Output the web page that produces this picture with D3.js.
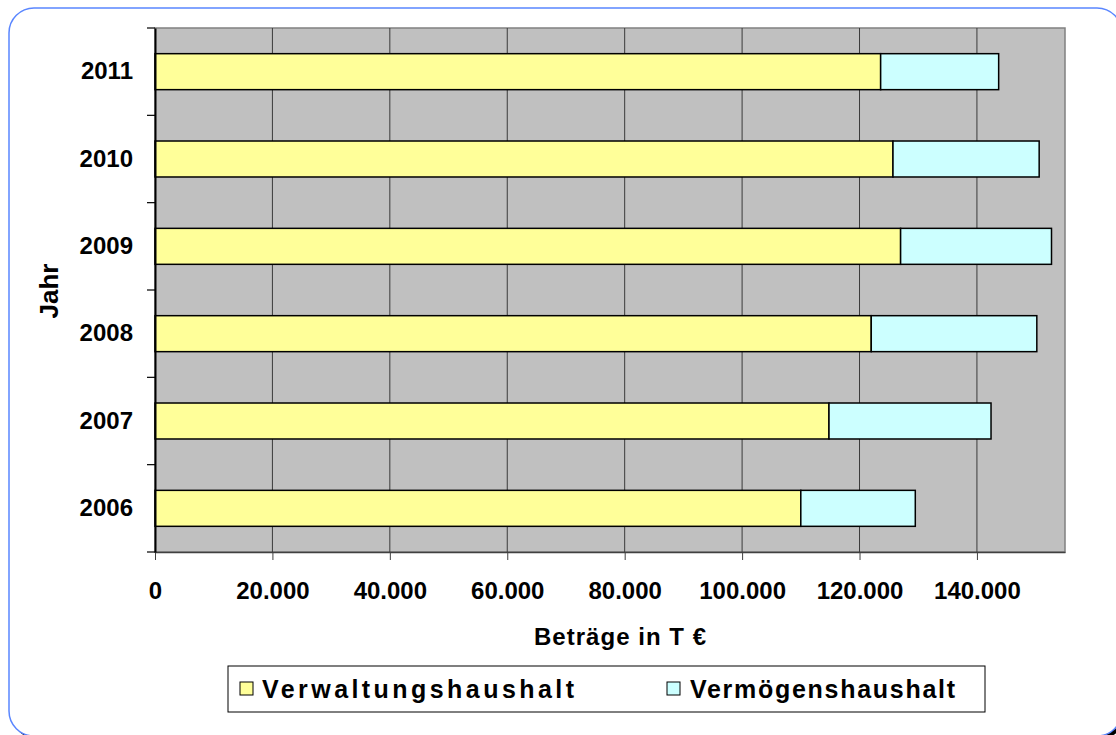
<!DOCTYPE html>
<html>
<head>
<meta charset="utf-8">
<script src="https://cdn.jsdelivr.net/npm/d3@7"></script>
<style>
  body { margin: 0; background: #fff; }
  text { font-family: "Liberation Sans", Arial, sans-serif; font-weight: bold; fill: #000; }
</style>
</head>
<body>
<div id="chart"></div>
<script>
// Data (T €)
const years = ["2006", "2007", "2008", "2009", "2010", "2011"];
const verwaltung = [110000, 114800, 122000, 127000, 125700, 123600];
const vermoegen = [19500, 27600, 28200, 25700, 24900, 20100];
const xTicks = [0, 20000, 40000, 60000, 80000, 100000, 120000, 140000];
const seriesNames = ["Verwaltungshaushalt", "Vermögenshaushalt"];
const seriesColors = ["#ffff99", "#ccffff"];

const width = 1116;
const height = 735;
const plot = {left: 155, right: 1065, top: 28, bottom: 552};

const svg = d3.select("#chart")
    .append("svg")
    .attr("width", width)
    .attr("height", height);

// Rounded frame with a small shadow
svg.append("rect")
    .attr("x", 12).attr("y", 11)
    .attr("width", 1113).attr("height", 728)
    .attr("rx", 25)
    .attr("fill", "#000");
svg.append("rect")
    .attr("x", 9).attr("y", 8)
    .attr("width", 1113).attr("height", 728)
    .attr("rx", 25)
    .attr("fill", "#fff")
    .attr("stroke", "#5a86ff")
    .attr("stroke-width", 1.5);

// Scales
const x = d3.scaleLinear()
    .domain([0, 155000])
    .range([plot.left, plot.right]);

// 2011 on top
const y = d3.scaleBand()
    .domain(years.slice().reverse())
    .range([plot.top, plot.bottom])
    .paddingInner(0.588)
    .paddingOuter(0.294);

const de = d3.formatLocale({decimal: ",", thousands: ".", grouping: [3], currency: ["", " €"]});
const fmt = de.format(",");

// Plot background
svg.append("rect")
    .attr("x", plot.left).attr("y", plot.top)
    .attr("width", plot.right - plot.left)
    .attr("height", plot.bottom - plot.top)
    .attr("fill", "#c0c0c0")
    .attr("stroke", "#808080")
    .attr("stroke-width", 1.5);

// Vertical grid lines
svg.append("g")
    .selectAll("line")
    .data(xTicks.filter(d => d > 0))
    .join("line")
    .attr("x1", d => x(d)).attr("x2", d => x(d))
    .attr("y1", plot.top).attr("y2", plot.bottom)
    .attr("stroke", "#3a3a3a")
    .attr("stroke-width", 1);

// Stacked bars
const rows = years.map((yr, i) => ({year: yr, a: verwaltung[i], b: vermoegen[i]}));
const stack = d3.stack().keys(["a", "b"])(rows);

svg.append("g")
    .selectAll("g")
    .data(stack)
    .join("g")
    .attr("fill", (d, i) => seriesColors[i])
    .selectAll("rect")
    .data(d => d)
    .join("rect")
    .attr("x", d => x(d[0]))
    .attr("y", d => y(d.data.year))
    .attr("width", d => x(d[1]) - x(d[0]))
    .attr("height", y.bandwidth())
    .attr("stroke", "#000")
    .attr("stroke-width", 1.5);

// X axis
const xAxis = svg.append("g")
    .attr("transform", `translate(0,${plot.bottom})`)
    .call(d3.axisBottom(x).tickValues(xTicks).tickFormat(fmt).tickSize(8).tickPadding(22).tickSizeOuter(0));
xAxis.select(".domain").attr("stroke", "#404040").attr("stroke-width", 1.5);
xAxis.selectAll(".tick line").attr("stroke", "#404040").attr("stroke-width", 1);
xAxis.selectAll("text")
    .attr("font-size", 24)
    .attr("font-family", "Liberation Sans, Arial, sans-serif")
    .attr("font-weight", "bold");

// Y axis labels
const yAxis = svg.append("g")
    .attr("transform", `translate(${plot.left},0)`)
    .call(d3.axisLeft(y).tickSize(0).tickPadding(22));
yAxis.select(".domain").attr("stroke", "#000").attr("stroke-width", 2);
yAxis.selectAll("text")
    .attr("font-size", 24)
    .attr("font-family", "Liberation Sans, Arial, sans-serif")
    .attr("font-weight", "bold");

// Y tick marks at category boundaries
const bounds = d3.range(years.length + 1).map(i => plot.top + i * y.step());
svg.append("g")
    .selectAll("line")
    .data(bounds)
    .join("line")
    .attr("x1", plot.left - 8).attr("x2", plot.left)
    .attr("y1", d => d).attr("y2", d => d)
    .attr("stroke", "#000")
    .attr("stroke-width", 1.2);

// Axis titles
svg.append("text")
    .attr("x", 620).attr("y", 645)
    .attr("text-anchor", "middle")
    .attr("font-size", 24)
    .attr("textLength", 172)
    .text("Beträge in T €");

svg.append("text")
    .attr("transform", "translate(49,291) rotate(-90)")
    .attr("text-anchor", "middle")
    .attr("dominant-baseline", "central")
    .attr("font-size", 26)
    .text("Jahr");

// Legend
const legend = svg.append("g");
legend.append("rect")
    .attr("x", 228).attr("y", 666)
    .attr("width", 757).attr("height", 46)
    .attr("fill", "#fff")
    .attr("stroke", "#000")
    .attr("stroke-width", 1);

const legendItems = [
    {sx: 240, tx: 262, len: 312},
    {sx: 667, tx: 690, len: 265}
];
legendItems.forEach((p, i) => {
    legend.append("rect")
        .attr("x", p.sx).attr("y", 682)
        .attr("width", 13).attr("height", 13)
        .attr("fill", seriesColors[i])
        .attr("stroke", "#000")
        .attr("stroke-width", 1);
    legend.append("text")
        .attr("x", p.tx).attr("y", 698)
        .attr("font-size", 25)
        .attr("textLength", p.len)
        .text(seriesNames[i]);
});
</script>
</body>
</html>
